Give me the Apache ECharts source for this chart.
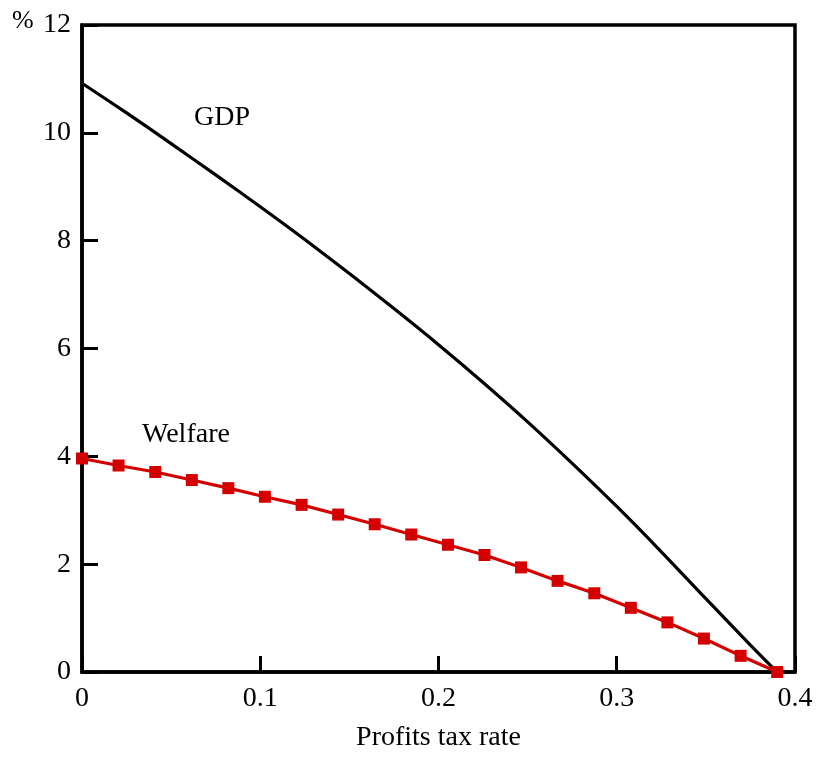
<!DOCTYPE html>
<html>
<head>
<meta charset="utf-8">
<script src="https://cdn.jsdelivr.net/npm/echarts@6/dist/echarts.min.js"></script>
<style>
html,body{margin:0;padding:0;background:#fff;}
#chart{width:817px;height:757px;}
</style>
</head>
<body>
<div id="chart"></div>
<script>
// Data
const gdpX = [0, 0.025, 0.05, 0.075, 0.1, 0.125, 0.15, 0.175, 0.2, 0.225, 0.25, 0.275, 0.3, 0.325, 0.35, 0.375, 0.39];
const gdpY = [10.92, 10.37, 9.80, 9.22, 8.63, 8.02, 7.39, 6.74, 6.07, 5.37, 4.64, 3.87, 3.07, 2.23, 1.36, 0.50, 0];
const welfareX = [0, 0.0205, 0.0411, 0.0616, 0.0821, 0.1026, 0.1232, 0.1437, 0.1642, 0.1847, 0.2053, 0.2258, 0.2463, 0.2668, 0.2874, 0.3079, 0.3284, 0.3489, 0.3695, 0.39];
const welfareY = [3.96, 3.83, 3.71, 3.56, 3.41, 3.25, 3.10, 2.92, 2.74, 2.55, 2.36, 2.17, 1.94, 1.69, 1.46, 1.19, 0.92, 0.62, 0.30, 0];
const xTicks = ['0', '0.1', '0.2', '0.3', '0.4'];
const yTicks = ['0', '2', '4', '6', '8', '10', '12'];
const xName = 'Profits tax rate';
const yUnit = '%';
const seriesNames = ['GDP', 'Welfare'];

const FONT = '"Liberation Serif", "DejaVu Serif", serif';
const chart = echarts.init(document.getElementById('chart'), null, {renderer: 'canvas'});
const option = {
  animation: false,
  backgroundColor: '#fff',
  grid: {left: 82, right: 22, top: 25, bottom: 82, show: true, borderColor: '#000', borderWidth: 3.5, backgroundColor: 'transparent'},
  xAxis: {
    type: 'value', min: 0, max: 0.4, interval: 0.1,
    name: xName, nameLocation: 'middle', nameGap: 52,
    nameTextStyle: {fontFamily: FONT, fontSize: 28, color: '#000'},
    axisLine: {show: true, lineStyle: {color: '#000', width: 3.5}},
    axisTick: {show: true, inside: true, length: 16, lineStyle: {color: '#000', width: 3}},
    axisLabel: {fontFamily: FONT, fontSize: 28, color: '#000', margin: 13,
      formatter: (v) => xTicks[Math.round(v * 10)]},
    splitLine: {show: false}
  },
  yAxis: {
    type: 'value', min: 0, max: 12, interval: 2,
    axisLine: {show: true, lineStyle: {color: '#000', width: 3.5}},
    axisTick: {show: true, inside: true, length: 16, lineStyle: {color: '#000', width: 3}},
    axisLabel: {fontFamily: FONT, fontSize: 28, color: '#000', margin: 11,
      formatter: (v) => yTicks[Math.round(v / 2)]},
    splitLine: {show: false}
  },
  series: [
    {
      name: seriesNames[0], type: 'line', smooth: 0.3, showSymbol: false, clip: false,
      data: gdpX.map((x, i) => [x, gdpY[i]]),
      lineStyle: {color: '#000', width: 3.2}
    },
    {
      name: seriesNames[1], type: 'line', smooth: false, clip: false,
      symbol: 'rect', symbolSize: 12,
      data: welfareX.map((x, i) => [x, welfareY[i]]),
      lineStyle: {color: '#d40000', width: 3.2},
      itemStyle: {color: '#d40000'}
    }
  ],
  graphic: [
    {type: 'text', left: 12, top: 8, style: {text: yUnit, font: '26px ' + FONT, fill: '#000'}},
    {type: 'text', left: 194, top: 104, style: {text: seriesNames[0], font: '28px ' + FONT, fill: '#000'}},
    {type: 'text', left: 142, top: 421, style: {text: seriesNames[1], font: '28px ' + FONT, fill: '#000'}}
  ]
};
chart.setOption(option);
</script>
</body>
</html>
